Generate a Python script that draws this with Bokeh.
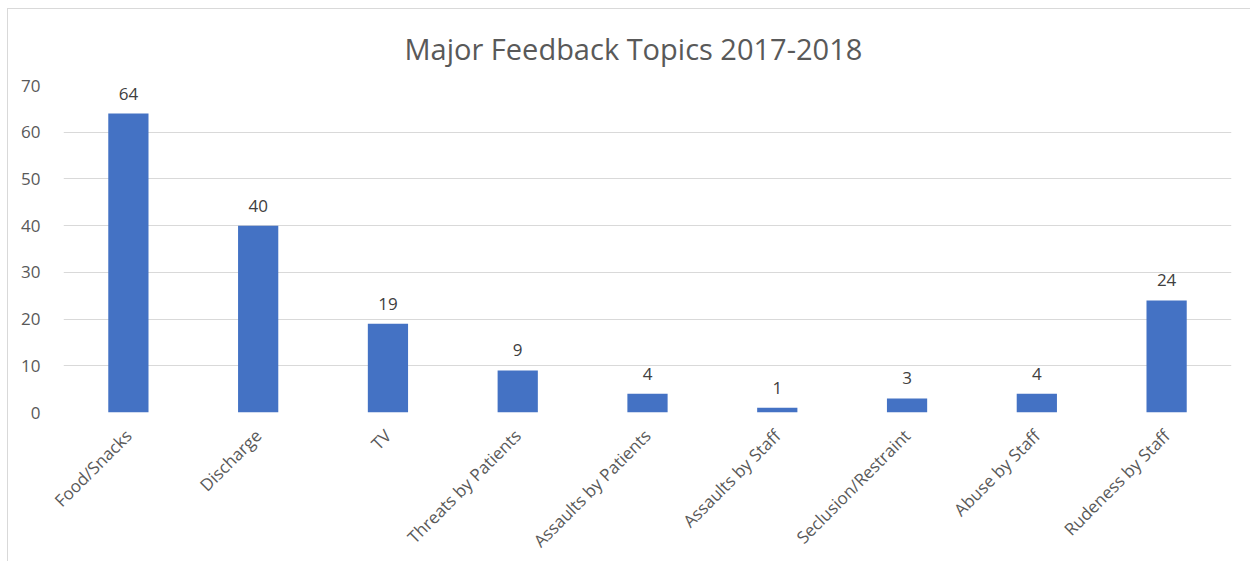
import math
from bokeh.plotting import figure
from bokeh.models import ColumnDataSource, Range1d, LabelSet
from bokeh.core.properties import value
from bokeh.embed import file_html
from bokeh.resources import INLINE

title_text = "Major Feedback Topics 2017-2018"
categories = ["Food/Snacks", "Discharge", "TV", "Threats by Patients",
              "Assaults by Patients", "Assaults by Staff", "Seclusion/Restraint",
              "Abuse by Staff", "Rudeness by Staff"]
counts = [64, 40, 19, 9, 4, 1, 3, 4, 24]
y_ticks = [0, 10, 20, 30, 40, 50, 60, 70]

src = ColumnDataSource(dict(cat=categories, val=counts, lab=[str(v) for v in counts]))

FONT = "Open Sans"
p = figure(x_range=categories, y_range=Range1d(0, 70), width=1243, height=553,
           output_backend="svg", toolbar_location=None,
           min_border_left=55, min_border_right=20, min_border_top=75, min_border_bottom=143)
p.margin = (8, 0, 0, 7)
p.styles = {"border-top": "1px solid #d9d9d9", "border-left": "1px solid #d9d9d9",
            "box-sizing": "border-box"}

p.title.text = title_text
p.title.align = "left"
p.title.offset = 341
p.title.text_font = FONT
p.title.text_font_size = "29px"
p.title.text_font_style = "normal"
p.title.text_color = "#595959"
p.title.standoff = 35

p.vbar(x="cat", top="val", width=0.31, source=src, color="#4472C4", line_color=None)

labels = LabelSet(x="cat", y="val", text="lab", source=src, text_align="center",
                  text_baseline="middle", y_offset=20, text_font_size="17px",
                  text_color="#404040", text_font=value(FONT))
p.add_layout(labels)

p.outline_line_color = None
p.xgrid.grid_line_color = None
p.ygrid.grid_line_color = "#d9d9d9"
p.ygrid.grid_line_width = 1
p.yaxis.ticker = y_ticks
for ax in (p.xaxis, p.yaxis):
    ax.axis_line_color = None
    ax.major_tick_line_color = None
    ax.minor_tick_line_color = None
    ax.major_label_text_font = FONT
    ax.major_label_text_font_size = "17px"
    ax.major_label_text_color = "#595959"
p.yaxis.major_label_standoff = 17
p.xaxis.major_label_standoff = 14
p.xaxis.major_label_orientation = math.pi / 4
p.x_range.range_padding = 0

open("out.html", "w").write(file_html(p, INLINE))
